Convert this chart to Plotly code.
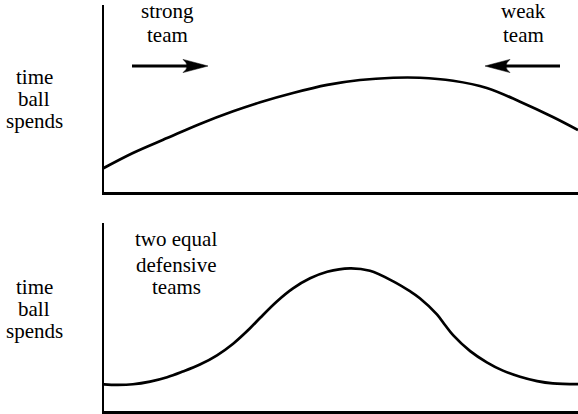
import plotly.graph_objects as go

# ---- data ----
top_x = [0, 6.3, 13.5, 20.4, 27.4, 33.1, 40.0, 47.2, 54.1, 61.1, 66.7, 73.7, 80.8, 87.8, 94.7, 100]
top_y = [13.3, 21.5, 29.4, 36.9, 43.6, 48.4, 53.3, 57.6, 60.2, 61.4, 61.4, 59.8, 56.0, 48.7, 40.6, 33.7]

bot_x = [0, 2.9, 6.3, 9.9, 13.5, 16.8, 20.4, 24.0, 27.4, 30.9, 33.1, 36.6, 40.0, 43.6, 47.2, 52.0,
         56.2, 61.1, 64.6, 66.7, 70.3, 72.0, 73.7, 77.3, 80.8, 84.2, 87.8, 91.4, 94.7, 100]
bot_y = [14.9, 14.6, 14.9, 16.3, 18.6, 21.6, 25.3, 30.2, 36.3, 44.3, 50.0, 58.6, 65.5, 70.8, 74.3, 76.1,
         74.8, 69.2, 64.0, 60.3, 51.8, 46.2, 40.8, 32.4, 26.5, 22.1, 18.9, 16.6, 15.4, 15.0]

y_label_lines = ["time", "ball", "spends"]
strong_lines = ["strong", "team"]
weak_lines = ["weak", "team"]
equal_lines = ["two equal", "defensive", "teams"]

# ---- layout helpers (pixel -> paper) ----
W, H = 578, 414
def px(x):
    return x / W
def py(y):
    return 1 - y / H

FONT = dict(family="Liberation Serif", size=21, color="black")

fig = go.Figure()
fig.add_trace(go.Scatter(x=top_x, y=top_y, mode="lines", xaxis="x", yaxis="y",
                         line=dict(color="black", width=2.7, shape="spline", smoothing=1),
                         hoverinfo="skip", showlegend=False))
fig.add_trace(go.Scatter(x=bot_x, y=bot_y, mode="lines", xaxis="x2", yaxis="y2",
                         line=dict(color="black", width=2.7, shape="spline", smoothing=1),
                         hoverinfo="skip", showlegend=False))

ax_common = dict(showline=True, linecolor="black", linewidth=2.5, showgrid=False,
                 zeroline=False, showticklabels=False, ticks="", fixedrange=True)

annotations = []
def add_lines(lines, xc, ys):
    for t, yy in zip(lines, ys):
        annotations.append(dict(text=t, x=px(xc), y=py(yy), xref="paper", yref="paper",
                                showarrow=False, font=FONT, xanchor="center", yanchor="middle"))

add_lines(y_label_lines, 34, [77, 99, 121])
add_lines(y_label_lines, 34, [287, 309, 331])
add_lines(strong_lines, 167, [10.5, 35])
add_lines(weak_lines, 523, [10.5, 35])
add_lines(equal_lines, 176, [239, 265, 287])

shapes = [
    # strong team arrow (pointing right)
    dict(type="line", xref="paper", yref="paper", x0=px(132), x1=px(192), y0=py(66), y1=py(66),
         line=dict(color="black", width=3)),
    dict(type="path", xref="paper", yref="paper", xsizemode="pixel", ysizemode="pixel",
         xanchor=px(208), yanchor=py(66), path="M0,0 L-25,-6.6 Q-17,0 -25,6.6 Z",
         fillcolor="black", line=dict(color="black", width=0.5)),
    # weak team arrow (pointing left)
    dict(type="line", xref="paper", yref="paper", x0=px(501), x1=px(560), y0=py(66), y1=py(66),
         line=dict(color="black", width=3)),
    dict(type="path", xref="paper", yref="paper", xsizemode="pixel", ysizemode="pixel",
         xanchor=px(485), yanchor=py(66), path="M0,0 L25,-6.6 Q17,0 25,6.6 Z",
         fillcolor="black", line=dict(color="black", width=0.5)),
]

fig.update_layout(
    width=W, height=H,
    margin=dict(l=0, r=0, t=0, b=0),
    paper_bgcolor="white", plot_bgcolor="white",
    font=FONT,
    xaxis=dict(domain=[px(104), 1], range=[0.21, 100], anchor="y", **ax_common),
    yaxis=dict(domain=[py(192.3), py(5)], range=[0.64, 100], anchor="x", **ax_common),
    xaxis2=dict(domain=[px(104), 1], range=[0.21, 100], anchor="y2", **ax_common),
    yaxis2=dict(domain=[py(411), py(223)], range=[0.8, 100], anchor="x2", **ax_common),
    annotations=annotations,
    shapes=shapes,
    showlegend=False,
)

fig.write_html("out.html", config={"displayModeBar": False, "staticPlot": True},
               post_script="document.body.style.margin='0px';document.body.style.padding='0px';")
